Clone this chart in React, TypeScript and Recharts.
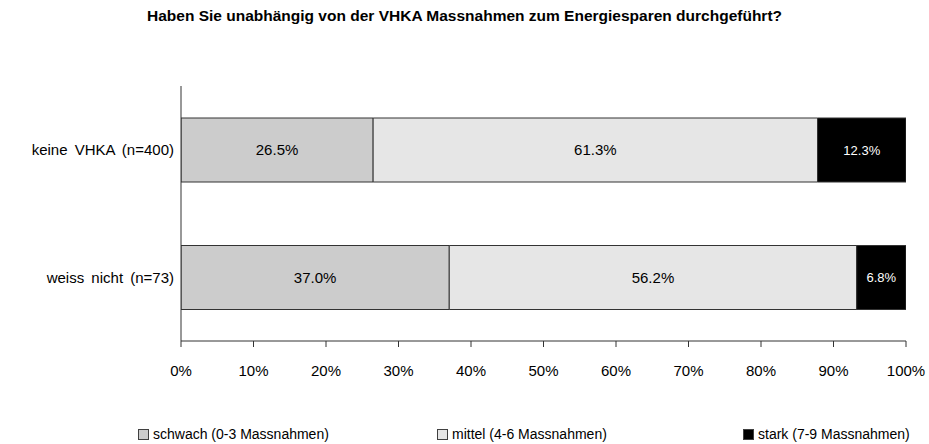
import { Bar, BarChart, LabelList, XAxis, YAxis } from "recharts"

const groups = ["keine VHKA (n=400)", "weiss nicht (n=73)"]
const schwach = [26.5, 37.0]
const mittel = [61.3, 56.2]
const stark = [12.3, 6.8]
const pctTicks = [0, 10, 20, 30, 40, 50, 60, 70, 80, 90, 100]

const seriesNames = ["schwach (0-3 Massnahmen)", "mittel (4-6 Massnahmen)", "stark (7-9 Massnahmen)"]
const seriesColors = ["#cccccc", "#e6e6e6", "#000000"]

const data = groups.map((g, i) => ({
  group: g,
  schwach: schwach[i],
  mittel: mittel[i],
  stark: stark[i],
}))

const font = "'Liberation Sans', Arial, sans-serif"
const fmt = (v: any) => `${Number(v).toFixed(1)}%`

export default function App() {
  const legendX = [138, 437, 743]
  return (
    <div style={{ position: "absolute", left: 0, top: 0, width: 929, height: 444, background: "#fff", fontFamily: font }}>
      <div
        style={{
          position: "absolute",
          top: 7,
          left: 0,
          width: 929,
          textAlign: "center",
          fontWeight: "bold",
          fontSize: 15.5,
          color: "#000",
        }}
      >
        Haben Sie unabhängig von der VHKA Massnahmen zum Energiesparen durchgeführt?
      </div>
      <BarChart
        width={929}
        height={444}
        data={data}
        layout="vertical"
        barSize={64}
        margin={{ top: 86, right: 23, left: 0, bottom: 63 }}
        style={{ fontFamily: font }}
      >
        <XAxis
          type="number"
          domain={[0, 100]}
          ticks={pctTicks}
          allowDataOverflow
          tickFormatter={(v) => `${v}%`}
          tickSize={6}
          tickMargin={18}
          height={40}
          stroke="#333"
          tick={{ fill: "#000", fontSize: 15 }}
        />
        <YAxis
          type="category"
          dataKey="group"
          width={181}
          tickLine={false}
          tickMargin={1}
          stroke="#333"
          tick={{ fill: "#000", fontSize: 15, wordSpacing: 3 }}
        />
        <Bar dataKey="schwach" stackId="a" fill={seriesColors[0]} stroke="#333" strokeWidth={1} isAnimationActive={false}>
          <LabelList dataKey="schwach" position="center" formatter={fmt} fill="#000" fontSize={15} />
        </Bar>
        <Bar dataKey="mittel" stackId="a" fill={seriesColors[1]} stroke="#333" strokeWidth={1} isAnimationActive={false}>
          <LabelList dataKey="mittel" position="center" formatter={fmt} fill="#000" fontSize={15} />
        </Bar>
        <Bar dataKey="stark" stackId="a" fill={seriesColors[2]} stroke="#333" strokeWidth={1} isAnimationActive={false}>
          <LabelList dataKey="stark" position="center" formatter={fmt} fill="#fff" fontSize={13} />
        </Bar>
      </BarChart>
      {seriesNames.map((name, i) => (
        <div
          key={name}
          style={{
            position: "absolute",
            left: legendX[i],
            top: 426,
            display: "flex",
            alignItems: "center",
            fontSize: 14,
            color: "#000",
          }}
        >
          <span
            style={{
              display: "inline-block",
              width: 9,
              height: 9,
              background: seriesColors[i],
              border: "1px solid #404040",
              marginRight: 4,
            }}
          />
          {name}
        </div>
      ))}
    </div>
  )
}
